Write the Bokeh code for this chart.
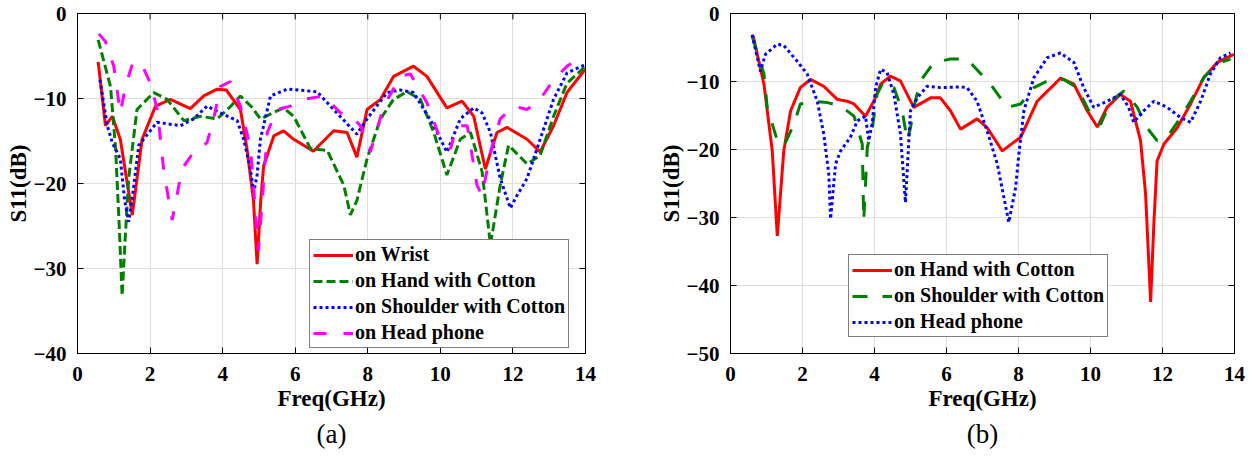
from bokeh.plotting import figure
from bokeh.layouts import row
from bokeh.models import Legend, LegendItem, Title, SingleIntervalTicker
from bokeh.embed import file_html
from bokeh.resources import INLINE

# ---------------- data: panel (a) ----------------
a_wrist_f = [0.57, 0.77, 0.96, 1.18, 1.51, 1.78, 2.15, 2.56, 3.11, 3.48, 3.85, 4.1, 4.49, 4.67, 4.85, 4.95,
             5.05, 5.13, 5.41, 5.68, 5.96, 6.5, 7.06, 7.43, 7.7, 7.98, 8.35, 8.71, 9.26, 9.63, 10.18, 10.6,
             10.92, 11.24, 11.56, 11.84, 12.39, 12.75, 13.12, 13.49, 13.95, 14.0]
a_wrist_db = [-5.7, -13.2, -12.1, -14.8, -23.7, -14.8, -10.9, -10.1, -11.2, -9.7, -8.9, -9.0, -11.3, -15.9, -22.0, -29.5,
              -22.0, -17.9, -14.4, -13.8, -14.8, -16.2, -13.8, -14.0, -16.9, -11.3, -10.1, -7.4, -6.2, -7.4, -11.1, -10.3,
              -12.1, -18.3, -14.0, -13.4, -14.8, -16.3, -13.2, -9.3, -6.8, -6.7]

a_hand_f = [0.57, 0.91, 1.05, 1.15, 1.23, 1.32, 1.41, 1.64, 2.1, 2.47, 2.93, 3.39, 3.85, 4.2, 4.49, 4.8, 5.04,
            5.68, 5.96, 6.42, 6.88, 7.34, 7.52, 7.7, 7.98, 8.35, 8.71, 9.08, 9.45, 9.82, 10.18, 10.55, 10.83,
            11.15, 11.38, 11.65, 11.88, 12.39, 12.75, 13.12, 13.49, 13.95, 14.0]
a_hand_db = [-3.1, -8.6, -15.9, -25.0, -33.2, -26.0, -19.4, -11.3, -9.3, -10.1, -12.6, -12.1, -12.4, -11.0, -9.7, -11.0, -12.4,
             -11.1, -12.1, -15.9, -16.1, -20.2, -23.7, -22.0, -17.1, -12.4, -10.1, -9.2, -10.1, -14.0, -19.0, -14.8, -14.0,
             -18.6, -27.2, -20.2, -15.5, -17.7, -16.7, -12.1, -8.2, -6.4, -6.3]

a_shoulder_f = [0.62, 0.82, 0.96, 1.18, 1.3, 1.41, 1.5, 1.69, 2.19, 2.84, 3.2, 3.57, 3.94, 4.4, 4.58, 4.75, 4.86,
                4.95, 5.04, 5.32, 5.78, 6.6, 7.15, 7.7, 7.98, 8.53, 8.9, 9.26, 9.82, 10.18, 10.55, 10.92, 11.15,
                11.38, 11.65, 11.93, 12.1, 12.39, 12.75, 13.12, 13.49, 13.95, 14.0]
a_shoulder_db = [-7.8, -13.2, -15.2, -17.1, -22.0, -24.5, -22.0, -15.5, -12.8, -13.2, -12.4, -10.9, -11.7, -12.6, -14.8, -18.0, -21.0,
                 -19.0, -14.8, -9.7, -8.9, -9.2, -11.7, -14.2, -12.4, -9.3, -9.0, -9.3, -13.2, -16.3, -12.4, -11.1, -11.7,
                 -14.0, -19.4, -22.9, -21.5, -19.4, -14.8, -10.1, -7.0, -6.1, -6.0]

a_head_f = [0.59, 0.77, 1.0, 1.18, 1.32, 1.51, 1.74, 2.01, 2.2, 2.38, 2.61, 2.88, 3.2, 3.57, 3.75, 3.94, 4.21,
            4.49, 4.77, 4.99, 5.23, 5.5, 5.87, 6.23, 6.79, 7.25, 7.5, 7.8, 8.07, 8.44, 8.9, 9.17, 9.63, 10.0,
            10.28, 10.46, 10.74, 11.01, 11.15, 11.4, 11.65, 12.02, 12.39, 12.75, 13.12, 13.49, 13.81, 14.0]
a_head_db = [-2.4, -3.3, -6.2, -11.7, -8.6, -6.0, -5.7, -8.2, -11.3, -18.6, -24.3, -18.3, -16.3, -15.2, -12.4, -8.6, -8.0,
             -10.9, -15.9, -27.9, -14.0, -11.3, -10.9, -10.1, -9.7, -11.7, -11.9, -13.2, -16.3, -10.9, -7.4, -7.1, -10.5, -14.8,
             -15.9, -13.2, -13.2, -20.2, -21.4, -16.0, -12.4, -10.9, -11.3, -10.1, -7.8, -6.2, -5.3, -5.5]

# ---------------- data: panel (b) ----------------
b_hand_f = [0.63, 0.93, 1.16, 1.3, 1.48, 1.67, 1.94, 2.22, 2.59, 2.96, 3.24, 3.43, 3.75, 3.98, 4.17, 4.44, 4.72,
            5.09, 5.56, 5.83, 6.11, 6.39, 6.85, 7.13, 7.55, 8.06, 8.52, 9.17, 9.54, 9.91, 10.19, 10.46, 10.83,
            11.11, 11.39, 11.53, 11.67, 11.76, 11.85, 12.04, 12.41, 12.78, 13.15, 13.52, 13.98]
b_hand_db = [-3.3, -10.4, -20.2, -32.7, -20.2, -14.3, -10.9, -9.7, -10.7, -12.6, -12.9, -13.3, -15.1, -12.9, -10.4, -9.2, -9.9,
             -13.8, -12.4, -12.4, -14.3, -17.0, -15.5, -16.8, -20.2, -18.2, -12.9, -9.5, -10.4, -14.3, -16.7, -13.8, -11.9,
             -12.9, -18.7, -26.5, -42.4, -30.9, -21.7, -19.2, -16.8, -13.3, -9.4, -7.2, -6.0]

b_shoulder_f = [0.6, 0.93, 1.02, 1.3, 1.48, 1.76, 1.94, 2.31, 2.69, 3.06, 3.43, 3.66, 3.7, 3.8, 3.94, 4.07, 4.26,
                4.54, 4.77, 4.91, 5.0, 5.09, 5.28, 5.65, 6.11, 6.57, 7.22, 7.69, 8.06, 8.43, 8.89, 9.26, 9.63, 10.0,
                10.28, 10.56, 10.93, 11.3, 11.57, 11.85, 12.13, 12.5, 12.78, 13.15, 13.52, 13.89]
b_shoulder_db = [-3.3, -8.9, -13.8, -18.7, -19.5, -16.3, -13.3, -12.9, -13.1, -13.6, -15.1, -19.2, -30.5, -19.7, -16.8, -11.9, -9.9,
                 -10.9, -14.3, -18.7, -16.8, -13.8, -9.9, -7.2, -6.7, -6.7, -10.4, -13.8, -13.3, -10.9, -9.7, -9.7, -10.9, -14.8,
                 -16.3, -12.9, -11.4, -13.8, -16.8, -18.7, -18.2, -15.3, -12.9, -9.4, -7.4, -6.7]

b_head_f = [0.6, 0.83, 0.97, 1.3, 1.48, 1.85, 2.13, 2.41, 2.59, 2.73, 2.78, 2.92, 3.06, 3.33, 3.52, 3.75, 3.84,
            3.94, 4.03, 4.17, 4.35, 4.54, 4.72, 4.86, 5.0, 5.19, 5.46, 5.83, 6.39, 6.57, 6.85, 7.13, 7.41, 7.73,
            7.92, 8.01, 8.15, 8.43, 8.8, 9.17, 9.54, 9.81, 10.09, 10.46, 10.83, 11.06, 11.2, 11.48, 11.76, 12.13,
            12.5, 12.78, 13.06, 13.33, 13.61, 13.89]
b_head_db = [-3.1, -8.5, -6.0, -4.5, -4.7, -7.0, -8.9, -12.9, -17.7, -23.6, -30.2, -22.1, -20.2, -18.2, -15.8, -15.1, -18.7,
             -16.0, -10.9, -8.2, -8.7, -11.9, -17.7, -27.8, -14.3, -12.4, -10.7, -10.9, -10.8, -10.9, -12.9, -17.3, -22.1, -30.7,
             -25.6, -20.7, -14.3, -9.4, -6.5, -5.8, -7.2, -10.9, -13.8, -12.9, -11.9, -13.8, -16.0, -14.3, -12.9, -13.8,
             -15.3, -16.0, -12.9, -8.9, -6.5, -5.8]

a_labels = ["on Wrist", "on Hand with Cotton", "on Shoulder with Cotton", "on Head phone"]
b_labels = ["on Hand with Cotton", "on Shoulder with Cotton", "on Head phone"]
x_ticks = [0, 2, 4, 6, 8, 10, 12, 14]
a_y_ticks = [0, -10, -20, -30, -40]
b_y_ticks = [0, -10, -20, -30, -40, -50]

FONT = "'Liberation Serif', 'Times New Roman', serif"
TICK_PX = 6


def style(p, yticks, caption, fw, fh, cap_standoff):
    ymin, ymax = min(yticks), max(yticks)
    p.xaxis.ticker = SingleIntervalTicker(interval=2)
    p.yaxis.ticker = SingleIntervalTicker(interval=10)
    for ax in (p.xaxis[0], p.yaxis[0]):
        ax.major_label_text_font = FONT
        ax.major_label_text_font_style = "bold"
        ax.major_label_text_font_size = "21px"
        ax.major_label_text_color = "black"
        ax.axis_label_text_font = FONT
        ax.axis_label_text_font_style = "bold"
        ax.axis_label_text_font_size = "23px"
        ax.axis_label_text_color = "black"
        ax.major_tick_in = TICK_PX
        ax.major_tick_out = 0
        ax.minor_tick_line_color = None
        ax.axis_line_color = "black"
        ax.major_tick_line_color = "black"
    p.xaxis.axis_label = "Freq(GHz)"
    p.yaxis.axis_label = "S11(dB)"
    p.xaxis.major_label_standoff = 9
    p.xaxis.axis_label_standoff = 2
    p.yaxis.major_label_standoff = 7
    p.yaxis.axis_label_standoff = 0
    # inward ticks on the top and right edges (as in the MATLAB box)
    dy = (ymax - ymin) * TICK_PX / fh
    dx = 14 * TICK_PX / fw
    p.segment(x0=x_ticks, y0=[ymax] * len(x_ticks), x1=x_ticks, y1=[ymax - dy] * len(x_ticks),
              line_color="black", line_width=1)
    p.segment(x0=[14] * len(yticks), y0=yticks, x1=[14 - dx] * len(yticks), y1=yticks,
              line_color="black", line_width=1)
    p.grid.grid_line_color = "#dedede"
    p.grid.grid_line_width = 1
    p.xgrid.ticker = SingleIntervalTicker(interval=2)
    p.ygrid.ticker = SingleIntervalTicker(interval=10)
    p.outline_line_color = "black"
    p.outline_line_width = 1
    p.background_fill_color = "white"
    p.border_fill_color = "white"
    p.add_layout(Title(text=caption, align="center", standoff=cap_standoff, text_font=FONT,
                       text_font_style="normal", text_font_size="27px", text_color="black",
                       text_line_height=0.9), "below")


def make_legend(items, loc):
    return Legend(items=items, location=loc, label_text_font=FONT, label_text_font_style="bold",
                  label_text_font_size="20px", label_text_color="black", glyph_width=40, glyph_height=22,
                  label_height=22, label_standoff=2, spacing=3, padding=3, margin=0,
                  border_line_color="black", border_line_width=1, background_fill_alpha=1.0)


# ---------------- panel (a) ----------------
FW1, FH1 = 508, 344
p1 = figure(width=600, height=465, x_range=(0, 14), y_range=(-40, 0), output_backend="svg",
            toolbar_location=None, min_border_left=77, min_border_right=15, min_border_top=13,
            min_border_bottom=108)
r1 = p1.line(a_wrist_f, a_wrist_db, line_color="#ff0000", line_width=3)
r2 = p1.line(a_hand_f, a_hand_db, line_color="#008000", line_width=3, line_dash="9 4")
r3 = p1.line(a_shoulder_f, a_shoulder_db, line_color="#0000ff", line_width=3, line_dash="3 3")
r4 = p1.line(a_head_f, a_head_db, line_color="#ff00ff", line_width=3, line_dash="13 17")
style(p1, a_y_ticks, "(a)", FW1, FH1, 6)
lg1 = make_legend([LegendItem(label=l, renderers=[r]) for l, r in zip(a_labels, [r1, r2, r3, r4])], (232, 5))
p1.add_layout(lg1, "center")

# ---------------- panel (b) ----------------
FW2, FH2 = 504, 341
p2 = figure(width=655, height=465, x_range=(0, 14), y_range=(-50, 0), output_backend="svg",
            toolbar_location=None, min_border_left=130, min_border_right=21, min_border_top=12,
            min_border_bottom=112)
s1 = p2.line(b_hand_f, b_hand_db, line_color="#ff0000", line_width=3)
s2 = p2.line(b_shoulder_f, b_shoulder_db, line_color="#008000", line_width=3, line_dash="15 15")
s3 = p2.line(b_head_f, b_head_db, line_color="#0000ff", line_width=3, line_dash="3 3")
style(p2, b_y_ticks, "(b)", FW2, FH2, 6)
lg2 = make_legend([LegendItem(label=l, renderers=[r]) for l, r in zip(b_labels, [s1, s2, s3])], (118, 16))
p2.add_layout(lg2, "center")

layout = row(p1, p2)
open("out.html", "w").write(file_html(layout, INLINE))
